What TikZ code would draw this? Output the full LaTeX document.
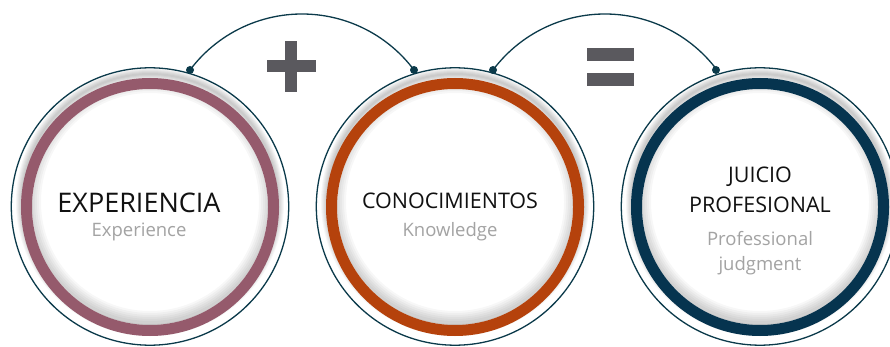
\documentclass[tikz,border=0pt]{standalone}
\usepackage{fontspec}
\setmainfont{Open Sans}
\definecolor{lineteal}{HTML}{0B3A4A}
\definecolor{ringA}{HTML}{955A6C}
\definecolor{ringB}{HTML}{B5420C}
\definecolor{ringC}{HTML}{06344F}
\definecolor{signgray}{HTML}{5A595E}
\definecolor{subgray}{HTML}{A3A3A3}
\definecolor{maintext}{HTML}{111111}
\tikzset{
  thinring/.style={draw=lineteal, line width=1.3pt, fill=white},
  colring/.style={fill=#1, even odd rule},
  softshade/.style={draw=black, draw opacity=0.035},
  link/.style={draw=lineteal, line width=1.3pt},
  linkdot/.style={circle, fill=lineteal, inner sep=0pt, minimum size=8pt},
  title/.style={text=maintext, align=center, inner sep=0pt},
  sub/.style={text=subgray, align=center, inner sep=0pt},
  sign/.style={fill=signgray}
}
\begin{document}
\begin{tikzpicture}[x=1pt,y=-1pt]
\useasboundingbox (0,0) rectangle (890,347);
\fill[white] (0,0) rectangle (890,347);
% connecting arcs
\coordinate (a1) at (190,70);
\coordinate (a2) at (414,70);
\coordinate (b1) at (493,70);
\coordinate (b2) at (716,70);
\draw[link] (a1) arc[start angle=-143.13, end angle=-36.87, radius=140];
\draw[link] (b1) arc[start angle=-143.13, end angle=-36.87, radius=140];
% circles
\foreach \cx/\col/\nm in {150/ringA/A, 455/ringB/B, 760/ringC/C}{
  \coordinate (c\nm) at (\cx,207);
  \path[thinring] ([yshift=0.5pt]c\nm) circle[radius=138.7];
  % outer soft shadow (between coloured ring and thin ring)
  \begin{scope}
    \clip ([yshift=0.5pt]c\nm) circle[radius=138];
    \foreach \w in {2,4,6,8,10,12}{
      \draw[softshade, line width=\w pt] ([yshift=5pt]c\nm) circle[radius=128];
    }
  \end{scope}
  % inner soft shadow
  \begin{scope}
    \clip (c\nm) circle[radius=118];
    \foreach \w in {4,8,12,16,20,24}{
      \draw[softshade, draw opacity=0.03, line width=\w pt] ([yshift=5pt]c\nm) circle[radius=121];
    }
  \end{scope}
  \path[colring=\col] (c\nm) circle[radius=129] (c\nm) circle[radius=118];
}
\node[linkdot] (d1) at (a1) {};
\node[linkdot] (d2) at (a2) {};
\node[linkdot] (d3) at (b1) {};
\node[linkdot] (d4) at (b2) {};
% plus sign
\path[sign] (285,41) rectangle (297,92);
\path[sign] (267,60) rectangle (316,72);
% equals sign
\path[sign] (587,48) rectangle (634,61);
\path[sign] (587,73) rectangle (634,86);
% texts
\node[title, font=\fontsize{27}{30}\selectfont, anchor=base] (t1) at (139,212) {EXPERIENCIA};
\node[sub, font=\fontsize{18.5}{22}\selectfont, anchor=base] (s1) at (139,236) {Experience};
\node[title, font=\fontsize{21.5}{24}\selectfont, anchor=base] (t2) at (450,208) {CONOCIMIENTOS};
\node[sub, font=\fontsize{18.5}{22}\selectfont, anchor=base] (s2) at (450,236) {Knowledge};
\node[title, font=\fontsize{21.5}{24}\selectfont, anchor=base] (t3a) at (760,183) {JUICIO};
\node[title, font=\fontsize{21.5}{24}\selectfont, anchor=base] (t3b) at (760,212) {PROFESIONAL};
\node[sub, font=\fontsize{18.5}{22}\selectfont, anchor=base] (s3a) at (760,245) {Professional};
\node[sub, font=\fontsize{18.5}{22}\selectfont, anchor=base] (s3b) at (760,270) {judgment};
\end{tikzpicture}
\end{document}
